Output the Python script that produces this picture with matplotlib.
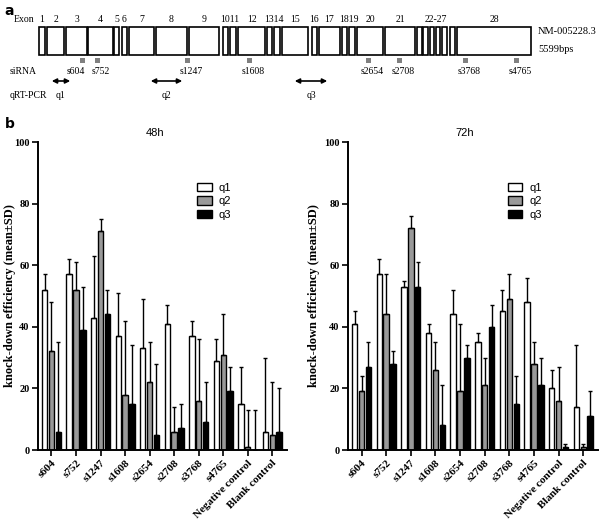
#!/usr/bin/env python
# EGFR siRNA knock-down: gene map (a) + qRT-PCR efficiency at 48h / 72h (b)
import numpy as np
import matplotlib
matplotlib.use("Agg")
import matplotlib.pyplot as plt
from matplotlib.patches import Rectangle, Patch, FancyArrowPatch

SERIF = ["Liberation Serif", "DejaVu Serif"]
NARROW = ["Liberation Sans Narrow", "Liberation Sans", "DejaVu Sans"]
plt.rcParams.update({"font.family": SERIF, "axes.linewidth": 1.4})

# ---- panel a data (diagram units along the transcript) ----
exon_start = [39, 47, 66, 88, 114, 122, 129, 156, 189, 223, 230, 238, 267, 274,
              282, 312, 319, 342, 349, 357, 385, 417, 423, 430, 436, 442, 450, 457]
exon_end = [45, 64, 87, 113, 119, 127, 154, 187, 219, 228, 236, 265, 272, 280,
            308, 317, 340, 347, 355, 383, 415, 422, 428, 434, 440, 447, 455, 531]
# exon number labels and the (first, last) exon index each one sits over
exon_text = ["1", "2", "3", "4", "5", "6", "7", "8", "9", "1011", "12", "1314",
             "15", "16", "17", "1819", "20", "21", "22-27", "28"]
exon_span = [(0, 0), (1, 1), (2, 2), (3, 3), (4, 4), (5, 5), (6, 6), (7, 7),
             (8, 8), (9, 10), (11, 11), (12, 13), (14, 14), (15, 15), (16, 16),
             (17, 18), (19, 19), (20, 20), (21, 26), (27, 27)]
sirna_names = ["s604", "s752", "s1247", "s1608", "s2654", "s2708", "s3768", "s4765"]
sirna_pos = [82, 97, 187, 249, 368, 399, 465, 516]
amplicons = ["q1", "q2", "q3"]
amp_start = [49, 148, 292]
amp_end = [73, 185, 330]

# ---- panel b data ----
groups = ["s604", "s752", "s1247", "s1608", "s2654", "s2708", "s3768", "s4765",
          "Negative control", "Blank control"]
q1_48 = [52, 57, 43, 37, 33, 41, 37, 29, 15, 6]
q1_48_sd = [5, 5, 20, 14, 16, 6, 5, 7, 12, 24]
q2_48 = [32, 52, 71, 18, 22, 6, 16, 31, 1, 5]
q2_48_sd = [16, 9, 4, 24, 13, 8, 20, 13, 12, 17]
q3_48 = [6, 39, 44, 15, 5, 7, 9, 19, 0, 6]
q3_48_sd = [29, 14, 8, 19, 23, 8, 13, 8, 13, 14]

q1_72 = [41, 57, 53, 38, 44, 35, 45, 48, 20, 14]
q1_72_sd = [4, 5, 2, 3, 8, 3, 7, 8, 6, 20]
q2_72 = [19, 44, 72, 26, 19, 21, 49, 28, 16, 1]
q2_72_sd = [5, 13, 4, 9, 22, 9, 8, 7, 11, 1]
q3_72 = [27, 28, 53, 8, 30, 40, 15, 21, 1, 11]
q3_72_sd = [8, 4, 8, 13, 4, 7, 9, 9, 1, 8]

fills = ["white", "#999999", "black"]

fig = plt.figure(figsize=(6.0, 5.2), dpi=100)

# ---------------- panel a ----------------
axa = fig.add_axes([0, 1 - 105 / 520, 1, 105 / 520])
axa.set_xlim(0, 600); axa.set_ylim(105, 0); axa.axis("off")
for s, e in zip(exon_start, exon_end):
    axa.add_patch(Rectangle((s, 27), e - s, 28, facecolor="white",
                            edgecolor="black", linewidth=1.2))
for lab, (i, j) in zip(exon_text, exon_span):
    axa.text((exon_start[i] + exon_end[j]) / 2, 19, lab, fontsize=7,
             ha="center", va="center")
axa.text(14, 19, "Exon", fontsize=7, ha="left", va="center")
axa.text(538, 31, "NM-005228.3", fontsize=7.5, ha="left", va="center")
axa.text(538, 50, "5599bps", fontsize=7.5, ha="left", va="center")
axa.text(10, 71, "siRNA", fontsize=7, ha="left", va="center")
for k, (nm, p) in enumerate(zip(sirna_names, sirna_pos)):
    axa.add_patch(Rectangle((p - 2.5, 58), 5, 5, facecolor="#808080", edgecolor="none"))
    dx = -6 if k == 0 else 4   # first label nudged left, as in the original
    axa.text(p + dx, 71, nm, fontsize=7, ha="center", va="center")
axa.text(10, 95, "qRT-PCR", fontsize=7, ha="left", va="center")
for nm, s, e in zip(amplicons, amp_start, amp_end):
    axa.add_patch(FancyArrowPatch((s, 81), (e, 81), arrowstyle="<|-|>",
                                  mutation_scale=7, linewidth=1.2, color="black"))
    axa.text((s + e) / 2, 95, nm, fontsize=7, ha="center", va="center")
fig.text(0.008, 0.992, "a", fontsize=10, weight="bold", family="DejaVu Sans",
         ha="left", va="top")

# ---------------- panel b ----------------
def draw_panel(ax, series, sds, title, tx, ylab_x):
    x = np.arange(len(groups))
    offs = [-0.28, 0.0, 0.28]
    for k, (v, sd) in enumerate(zip(series, sds)):
        ax.bar(x + offs[k], v, width=0.22, color=fills[k], edgecolor="black",
               linewidth=1.0, zorder=2)
        ax.errorbar(x + offs[k], v, yerr=[np.zeros(len(v)), sd], fmt="none",
                    ecolor="black", elinewidth=1.0, capsize=1.4, capthick=1.0,
                    zorder=3)
    ax.set_xlim(-0.55, 9.6); ax.set_ylim(0, 100)
    ax.set_yticks([0, 20, 40, 60, 80, 100])
    ax.set_xticks(x)
    ax.set_xticklabels(groups, rotation=45, ha="right", rotation_mode="anchor",
                       fontsize=8, weight="bold")
    for t in ax.get_yticklabels():
        t.set_fontweight("bold"); t.set_fontsize(7.5)
    ax.tick_params(direction="out", length=4, width=1.2, pad=2)
    for sp in ("top", "right"):
        ax.spines[sp].set_visible(False)
    ax.set_ylabel("knock-down efficiency (mean±SD)", fontsize=9, weight="bold")
    ax.yaxis.set_label_coords(ylab_x, 0.5)
    fig.text(tx, 1 - 133 / 520, title, fontsize=8, family=NARROW,
             ha="center", va="center")
    handles = [Patch(facecolor=fills[k], edgecolor="black", linewidth=1.0,
                     label=amplicons[k]) for k in range(3)]
    ax.legend(handles=handles, loc="upper left", bbox_to_anchor=(0.6, 0.9),
              frameon=False, prop={"family": NARROW, "size": 8},
              handlelength=1.3, handleheight=0.8, handletextpad=0.6,
              labelspacing=0.3)

bot, hgt = (520 - 450) / 520, (450 - 142) / 520
ax1 = fig.add_axes([38 / 600, bot, (287 - 38) / 600, hgt])
draw_panel(ax1, [q1_48, q2_48, q3_48], [q1_48_sd, q2_48_sd, q3_48_sd],
           "48h", 155 / 600, -0.09)
ax2 = fig.add_axes([348 / 600, bot, (598 - 348) / 600, hgt])
draw_panel(ax2, [q1_72, q2_72, q3_72], [q1_72_sd, q2_72_sd, q3_72_sd],
           "72h", 465 / 600, -0.11)
fig.text(0.008, 1 - 117 / 520, "b", fontsize=10, weight="bold", family="DejaVu Sans",
         ha="left", va="top")

fig.savefig("out.png", dpi=100)
